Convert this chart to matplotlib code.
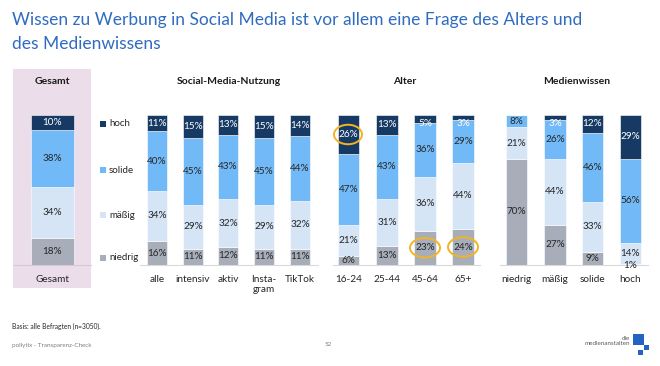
import matplotlib
matplotlib.use("Agg")
import matplotlib.pyplot as plt
import numpy as np
from matplotlib.patches import Rectangle, Ellipse

plt.rcParams["font.family"] = ["Lato", "DejaVu Sans"]

# data (percent, order: niedrig, mäßig, solide, hoch)
levels = ["niedrig", "mäßig", "solide", "hoch"]
gesamt = [18, 34, 38, 10]

social_cats = ["alle", "intensiv", "aktiv", "Insta-\ngram", "TikTok"]
social_niedrig = [16, 11, 12, 11, 11]
social_maessig = [34, 29, 32, 29, 32]
social_solide = [40, 45, 43, 45, 44]
social_hoch = [11, 15, 13, 15, 14]

age_cats = ["16-24", "25-44", "45-64", "65+"]
age_niedrig = [6, 13, 23, 24]
age_maessig = [21, 31, 36, 44]
age_solide = [47, 43, 36, 29]
age_hoch = [26, 13, 5, 3]

mw_cats = ["niedrig", "mäßig", "solide", "hoch"]
mw_niedrig = [70, 27, 9, 1]
mw_maessig = [21, 44, 33, 14]
mw_solide = [8, 26, 46, 56]
mw_hoch = [0, 3, 12, 29]

colors = ["#A7AEB9", "#D5E5F5", "#72BAF7", "#173A64"]
text_colors = ["#262626", "#262626", "#262626", "white"]

W, H = 660, 366
fig = plt.figure(figsize=(W / 100, H / 100), dpi=100)


def fx(x):
    return x / W


def fy(y):
    return 1 - y / H


# Gesamt panel background
fig.patches.append(Rectangle((fx(13), fy(288)), fx(91) - fx(13), (288 - 69) / H,
                             transform=fig.transFigure, facecolor="#EBDDEA",
                             edgecolor="none", zorder=-5))

base_y, top_y = 265, 115
ax = fig.add_axes([0, fy(base_y), 1, (base_y - top_y) / H])
ax.set_zorder(2)
ax.set_xlim(0, W)
ax.set_ylim(0, 100)
ax.axis("off")
ax.patch.set_alpha(0)

groups = [
    (["Gesamt"], [[v] for v in gesamt], [52.5], 43),
    (social_cats, [social_niedrig, social_maessig, social_solide, social_hoch],
     [157, 193, 228, 264, 300], 20.5),
    (age_cats, [age_niedrig, age_maessig, age_solide, age_hoch],
     [348.5, 387, 425, 463], 21.5),
    (mw_cats, [mw_niedrig, mw_maessig, mw_solide, mw_hoch],
     [516.5, 555, 592.5, 630.5], 21.5),
]

for cats, series, xs, width in groups:
    vals = np.array(series, dtype=float)
    vals = vals / vals.sum(axis=0) * 100
    bottom = np.zeros(len(cats))
    for k in range(4):
        ax.bar(xs, vals[k], width=width, bottom=bottom, color=colors[k],
               edgecolor="white", linewidth=0.4)
        for i, x in enumerate(xs):
            raw = series[k][i]
            if raw == 0:
                continue
            y = bottom[i] + vals[k][i] / 2
            col = text_colors[k]
            if raw <= 1:
                y = -0.5
                col = "#262626"
            elif k == 3 and raw <= 5:
                y = 100 - 6
            ax.text(x, y, f"{raw}%", ha="center", va="center", fontsize=7.2,
                    color=col, clip_on=False)
        bottom += vals[k]
    for x, c in zip(xs, cats):
        ax.text(x, -6.5, c, ha="center", va="top", fontsize=7.2, color="#262626",
                clip_on=False, linespacing=1.25)

# baselines
for x0, x1, col in [(13, 91, "#D8C8D6"), (140, 318, "#D9D9D9"),
                    (333, 480, "#D9D9D9"), (500, 648, "#D9D9D9")]:
    ax.plot([x0, x1], [0, 0], color=col, lw=0.8, clip_on=False, zorder=0)

# highlight circles
for x, y, w, h in [(348, 87, 28, 13), (425, 11.5, 30, 13), (463, 12, 30, 13)]:
    ax.add_patch(Ellipse((x, y), w, h, angle=0, fill=False, edgecolor="#F2B425",
                         lw=1.4, clip_on=False, zorder=5))

# legend
for k, lab in enumerate(levels):
    ly = [258, 215, 170, 124][k]
    fig.patches.append(Rectangle((fx(100), fy(ly + 3)), 6 / W, 6 / H,
                                 transform=fig.transFigure, facecolor=colors[k],
                                 edgecolor="none"))
    fig.text(fx(109), fy(ly), lab, fontsize=7, color="#262626", va="center")

# headings
for x, t in [(52, "Gesamt"), (229, "Social-Media-Nutzung"), (405, "Alter"),
             (577, "Medienwissen")]:
    fig.text(fx(x), fy(82), t, ha="center", va="center", fontsize=7.5,
             fontweight="bold", color="#1A1A1A")

# title
fig.text(fx(12), fy(20), "Wissen zu Werbung in Social Media ist vor allem eine Frage des Alters und",
         fontsize=12.5, color="#2F6CC0", va="center")
fig.text(fx(12), fy(44), "des Medienwissens", fontsize=12.5, color="#2F6CC0", va="center")

# footer
fig.text(fx(12), fy(326), "Basis: alle Befragten (n=3050).", fontsize=4.8,
         color="#262626", va="center")
fig.text(fx(12), fy(345), "pollytix - Transparenz-Check", fontsize=4.5,
         color="#7F7F7F", va="center")
fig.text(fx(328), fy(345), "52", fontsize=4.5, color="#7F7F7F", va="center",
         ha="center")
fig.text(fx(630), fy(341), "die\nmedienanstalten", fontsize=4.5, color="#595959",
         va="center", ha="right", multialignment="right", linespacing=1.1)
for x0, y0, s in [(633, 334, 11), (644, 345, 5), (638, 350, 5)]:
    fig.patches.append(Rectangle((fx(x0), fy(y0 + s)), s / W, s / H,
                                 transform=fig.transFigure, facecolor="#2463C4",
                                 edgecolor="none"))

fig.savefig("out.png", dpi=100)
